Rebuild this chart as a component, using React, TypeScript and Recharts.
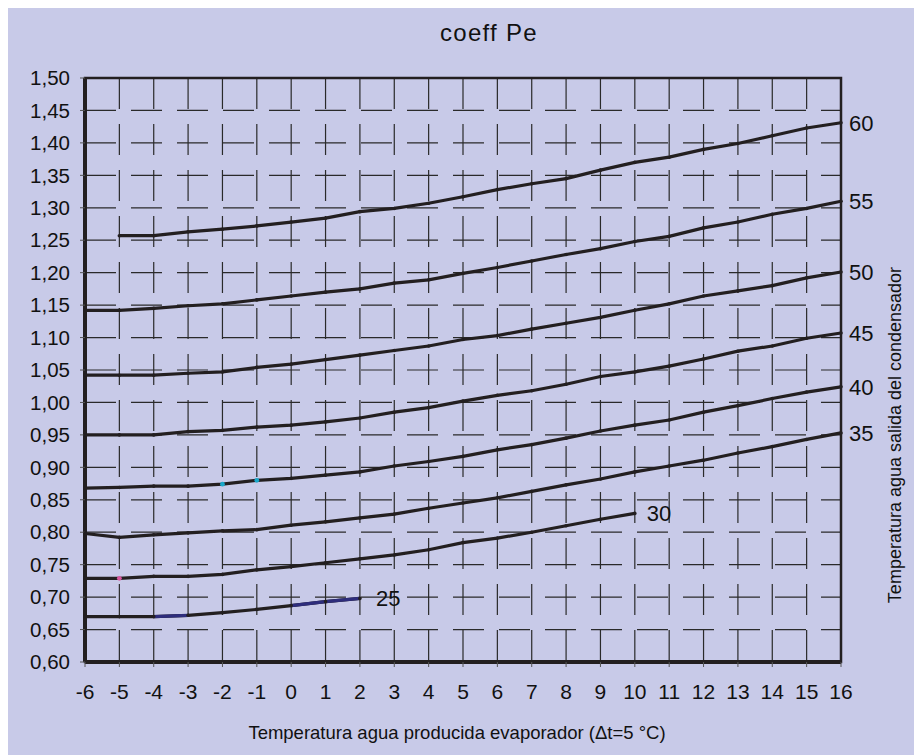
import React from 'react';
import { LineChart, Line, XAxis, YAxis, CartesianGrid, ReferenceArea } from 'recharts';

// evaporator water temperature (°C)
const temps = [-6, -5, -4, -3, -2, -1, 0, 1, 2, 3, 4, 5, 6, 7, 8, 9, 10, 11, 12, 13, 14, 15, 16];

// condenser outlet water temperature curves
const s60 = [null, 1.257, 1.257, 1.263, 1.267, 1.272, 1.278, 1.284, 1.294, 1.299, 1.307, 1.317, 1.328, 1.337, 1.345, 1.358, 1.370, 1.378, 1.390, 1.399, 1.411, 1.423, 1.431];
const s55 = [1.142, 1.142, 1.145, 1.149, 1.152, 1.158, 1.164, 1.170, 1.175, 1.184, 1.189, 1.199, 1.208, 1.218, 1.228, 1.237, 1.248, 1.256, 1.269, 1.278, 1.290, 1.299, 1.310];
const s50 = [1.042, 1.042, 1.042, 1.045, 1.047, 1.054, 1.059, 1.066, 1.073, 1.080, 1.087, 1.097, 1.103, 1.113, 1.122, 1.131, 1.142, 1.152, 1.164, 1.172, 1.180, 1.192, 1.201];
const s45 = [0.950, 0.950, 0.950, 0.955, 0.957, 0.962, 0.965, 0.970, 0.976, 0.985, 0.992, 1.002, 1.011, 1.018, 1.028, 1.040, 1.047, 1.056, 1.067, 1.079, 1.087, 1.099, 1.107];
const s40 = [0.868, 0.869, 0.871, 0.871, 0.874, 0.880, 0.883, 0.888, 0.893, 0.902, 0.909, 0.917, 0.927, 0.935, 0.945, 0.956, 0.965, 0.973, 0.985, 0.995, 1.006, 1.016, 1.024];
const s35 = [0.798, 0.792, 0.796, 0.799, 0.802, 0.804, 0.811, 0.816, 0.822, 0.828, 0.837, 0.845, 0.853, 0.863, 0.873, 0.882, 0.893, 0.902, 0.911, 0.922, 0.932, 0.943, 0.953];
const s30 = [0.729, 0.729, 0.732, 0.732, 0.735, 0.742, 0.747, 0.753, 0.759, 0.765, 0.773, 0.784, 0.791, 0.800, 0.810, 0.820, 0.829, null, null, null, null, null, null];
const s25 = [0.670, 0.670, 0.670, 0.672, 0.676, 0.681, 0.687, 0.693, 0.698, null, null, null, null, null, null, null, null, null, null, null, null, null, null];

const seriesNames = ['60', '55', '50', '45', '40', '35', '30', '25'];
const seriesValues = [s60, s55, s50, s45, s40, s35, s30, s25];

// parts of the 25 curve drawn in navy in the original
const navyTemps25a = [-4, -3];
const navyTemps25b = [0, 1, 2];

// single coloured markers
const highlights = [
  { series: '30', t: -5, color: '#d8579f' },
  { series: '40', t: -2, color: '#19a7c9' },
  { series: '40', t: -1, color: '#19a7c9' },
];

const xTicks = [-6, -5, -4, -3, -2, -1, 0, 1, 2, 3, 4, 5, 6, 7, 8, 9, 10, 11, 12, 13, 14, 15, 16];
const yTicks = [0.6, 0.65, 0.7, 0.75, 0.8, 0.85, 0.9, 0.95, 1.0, 1.05, 1.1, 1.15, 1.2, 1.25, 1.3, 1.35, 1.4, 1.45, 1.5];

const labelDx: Record<string, number> = { '60': 8, '55': 8, '50': 8, '45': 8, '40': 8, '35': 8, '30': 12, '25': 16 };

const chartData = temps.map((t, i) => {
  const row: any = { t };
  seriesNames.forEach((n, k) => {
    row[n] = seriesValues[k][i];
  });
  row['25a'] = navyTemps25a.includes(t) ? s25[i] : null;
  row['25b'] = navyTemps25b.includes(t) ? s25[i] : null;
  return row;
});

const INK = '#231f20';
const BG = '#c8cae8';
const FONT = "'Liberation Sans', Arial, sans-serif";

const lastIndex = (arr: (number | null)[]) => {
  let last = -1;
  arr.forEach((v, i) => {
    if (v != null) last = i;
  });
  return last;
};

const makeDot = (name: string, lastIdx: number) => (props: any) => {
  const { cx, cy, index, value } = props;
  if (value == null || cy == null || isNaN(cy)) return <g key={`d-${name}-${index}`} />;
  const hl = highlights.find((h) => h.series === name && h.t === temps[index]);
  return (
    <g key={`d-${name}-${index}`}>
      <circle cx={cx} cy={cy} r={hl ? 2.4 : 1.8} fill={hl ? hl.color : INK} />
      {index === lastIdx && (
        <text x={cx + labelDx[name]} y={cy} dy="0.36em" fontSize={22} fill="#111" fontFamily={FONT}>
          {name}
        </text>
      )}
    </g>
  );
};

const App: React.FC = () => {
  return (
    <div style={{ position: 'relative', width: 907, height: 747, background: BG, fontFamily: FONT, color: '#111' }}>
      <div style={{ position: 'absolute', left: 381, top: 10, width: 200, textAlign: 'center', fontSize: 24, letterSpacing: 1.3, lineHeight: '30px' }}>
        coeff Pe
      </div>

      <LineChart width={907} height={747} data={chartData} margin={{ top: 70, right: 74, bottom: 53, left: 17 }}>
        <CartesianGrid stroke="#2a2a2a" strokeWidth={1.2} strokeDasharray="31 15" />
        <XAxis
          dataKey="t"
          type="number"
          domain={[-6, 16]}
          ticks={xTicks}
          interval={0}
          height={40}
          tickSize={5}
          tickMargin={17}
          axisLine={{ stroke: INK, strokeWidth: 4 }}
          tickLine={{ stroke: '#555' }}
          tick={{ fontSize: 21, fill: '#111', fontFamily: FONT }}
        />
        <YAxis
          type="number"
          domain={[0.6, 1.5]}
          ticks={yTicks}
          interval={0}
          width={60}
          tickSize={5}
          tickMargin={10}
          tickFormatter={(v: number) => v.toFixed(2).replace('.', ',')}
          axisLine={{ stroke: INK, strokeWidth: 4 }}
          tickLine={{ stroke: '#555' }}
          tick={{ fontSize: 20.5, fill: '#111', fontFamily: FONT }}
        />
        <ReferenceArea x1={-6} x2={16} y1={0.6} y2={1.5} fill="none" stroke={INK} strokeWidth={2.5} />
        {seriesNames.map((n, k) => (
          <Line
            key={n}
            dataKey={n}
            type="linear"
            stroke={INK}
            strokeWidth={3.2}
            dot={makeDot(n, lastIndex(seriesValues[k]))}
            activeDot={false}
            connectNulls={false}
            isAnimationActive={false}
          />
        ))}
        <Line dataKey="25a" type="linear" stroke="#2e2d7c" strokeWidth={3.2} dot={false} activeDot={false} isAnimationActive={false} />
        <Line dataKey="25b" type="linear" stroke="#2e2d7c" strokeWidth={3.2} dot={false} activeDot={false} isAnimationActive={false} />
      </LineChart>

      <div
        style={{
          position: 'absolute',
          left: 149,
          top: 713,
          width: 600,
          textAlign: 'center',
          fontSize: 18.5,
          lineHeight: '24px',
          whiteSpace: 'nowrap',
        }}
      >
        Temperatura agua producida evaporador (Δt=5 °C)
      </div>
      <div
        style={{
          position: 'absolute',
          left: 887 - 200,
          top: 427 - 12,
          width: 400,
          height: 24,
          lineHeight: '24px',
          textAlign: 'center',
          fontSize: 18,
          whiteSpace: 'nowrap',
          transform: 'rotate(-90deg)',
          transformOrigin: 'center',
        }}
      >
        Temperatura agua salida del condensador
      </div>
    </div>
  );
};

export default App;
